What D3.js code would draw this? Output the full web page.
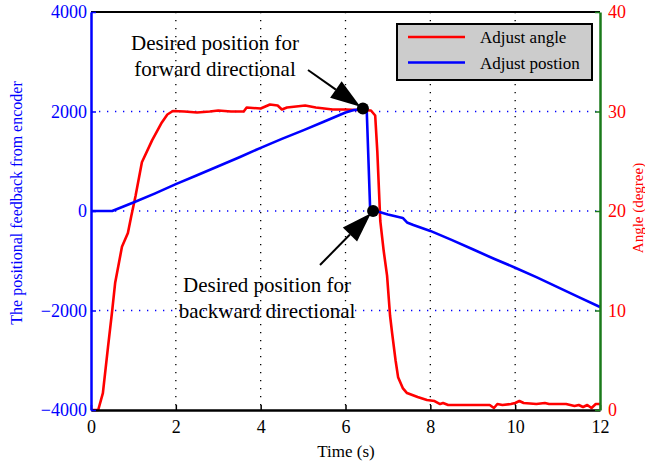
<!DOCTYPE html>
<html>
<head>
<meta charset="utf-8">
<script src="https://cdn.jsdelivr.net/npm/d3@7"></script>
<style>
  body { margin: 0; background: #fff; }
  svg text { font-family: "Liberation Serif", "Tinos", "Times New Roman", Times, "DejaVu Serif", serif !important; }
</style>
</head>
<body>
<svg id="chart" width="645" height="464"></svg>
<script>
// time (s) for the position curve and its values (encoder counts)
var posTime = [0, 0.5, 1, 1.5, 2, 2.5, 3, 3.5, 4, 4.5, 5, 5.5, 6, 6.2, 6.45, 6.5, 6.58, 6.65, 6.8, 7.0, 7.35, 7.45, 7.6, 8, 8.5, 9, 9.5, 10, 10.5, 11, 11.5, 12];
var posVal  = [0, 0, 170, 350, 540, 720, 900, 1080, 1270, 1450, 1620, 1800, 1980, 2030, 2050, 2040, 60, 0, -20, -70, -140, -230, -280, -400, -580, -770, -960, -1140, -1330, -1530, -1730, -1930];

// time (s) for the angle curve and its values (degree)
var angTime = [0, 0.17, 0.28, 0.4, 0.5, 0.57, 0.73, 0.87, 0.95, 1.05, 1.2, 1.44, 1.67, 1.8, 1.93, 2.2, 2.5, 2.8, 3.0, 3.3, 3.6, 3.67, 4.0, 4.22, 4.4, 4.5, 4.62, 5.05, 5.3, 5.7, 6.0, 6.6, 6.7, 6.75, 6.82, 6.9, 6.98, 7.05, 7.1, 7.18, 7.24, 7.35, 7.45, 7.7, 7.92, 8.1, 8.23, 8.3, 8.42, 9.0, 9.4, 9.5, 9.58, 9.7, 9.9, 10.0, 10.1, 10.2, 10.5, 10.7, 10.8, 11.2, 11.4, 11.5, 11.6, 11.7, 11.8, 11.9, 12];
var angVal  = [0, 0, 1.7, 6.3, 10, 12.8, 16.4, 17.8, 19.5, 21.5, 24.9, 27.1, 28.9, 29.7, 30.05, 30.0, 29.9, 30.0, 30.1, 30.0, 30.0, 30.4, 30.3, 30.7, 30.6, 30.2, 30.4, 30.6, 30.4, 30.2, 30.2, 30.1, 29.6, 26, 19, 16, 13.5, 9.5, 7.7, 5, 3.3, 2.2, 1.7, 1.3, 1.0, 0.9, 0.6, 0.7, 0.5, 0.5, 0.5, 0.2, 0.6, 0.5, 0.6, 0.7, 0.9, 0.7, 0.6, 0.7, 0.6, 0.6, 0.4, 0.5, 0.3, 0.5, 0.2, 0.6, 0.6];

var xTicks = [0, 2, 4, 6, 8, 10, 12];
var leftTicks = [-4000, -2000, 0, 2000, 4000];
var rightTicks = [0, 10, 20, 30, 40];

var legendNames = ["Adjust angle", "Adjust postion"];
var legendColors = ["#ff0000", "#0000ff"];

// marked points on the position curve: [time, position]
var marks = [[6.41, 2060], [6.65, 0]];
var notes = [["Desired position for", "forward directional"], ["Desired position for", "backward directional"]];

var FONT = "Liberation Serif, Tinos, Times New Roman, Times, DejaVu Serif, serif";
var L = 91, R = 600, T = 12, B = 410;
var svg = d3.select("#chart");

var x = d3.scaleLinear().domain([0, 12]).range([L, R]);
var yL = d3.scaleLinear().domain([-4000, 4000]).range([B, T]);
var yR = d3.scaleLinear().domain([0, 40]).range([B, T]);

// grid
svg.selectAll("line.vg").data(xTicks.slice(1, -1)).enter().append("line")
  .attr("x1", x).attr("x2", x).attr("y1", T).attr("y2", B)
  .style("stroke", "#000").style("stroke-width", 1.3).style("stroke-dasharray", "1.3,6.7");
svg.selectAll("line.hg").data([-2000, 0, 2000]).enter().append("line")
  .attr("x1", L).attr("x2", R).attr("y1", yL).attr("y2", yL)
  .style("stroke", "#0000ff").style("stroke-width", 1.3).style("stroke-dasharray", "1.3,6.7");

// curves
var ang = angTime.map(function(t, i) { return [t, angVal[i]]; });
var pos = posTime.map(function(t, i) { return [t, posVal[i]]; });

svg.append("path").datum(ang)
  .attr("d", d3.line().x(function(d) { return x(d[0]); }).y(function(d) { return yR(d[1]); }))
  .style("fill", "none").style("stroke", "#ff0000").style("stroke-width", 2.6).style("stroke-linejoin", "round");
svg.append("path").datum(pos)
  .attr("d", d3.line().x(function(d) { return x(d[0]); }).y(function(d) { return yL(d[1]); }))
  .style("fill", "none").style("stroke", "#0000ff").style("stroke-width", 2.6).style("stroke-linejoin", "round");

// axes
var bottom = svg.append("g").attr("transform", "translate(0," + B + ")")
  .call(d3.axisBottom(x).tickValues(xTicks).tickSizeInner(-5).tickSizeOuter(0).tickPadding(10));
bottom.attr("font-family", FONT);
bottom.select(".domain").style("stroke", "#000").style("stroke-width", 2.5);
bottom.selectAll(".tick line").style("stroke", "#000").style("stroke-width", 1.5);
bottom.selectAll("text").style("font-size", "18px").style("fill", "#000");

svg.append("line").attr("x1", L).attr("x2", R).attr("y1", T).attr("y2", T)
  .style("stroke", "#000").style("stroke-width", 2);

var left = svg.append("g").attr("transform", "translate(" + L + ",0)")
  .call(d3.axisLeft(yL).tickValues(leftTicks).tickSizeInner(-5).tickSizeOuter(0).tickPadding(4).tickFormat(d3.format("d")));
left.attr("font-family", FONT);
left.select(".domain").style("stroke", "#0000ff").style("stroke-width", 2.5);
left.selectAll(".tick line").style("stroke", "#0000ff").style("stroke-width", 1.5);
left.selectAll("text").style("font-size", "18px").style("fill", "#0000ff");

var right = svg.append("g").attr("transform", "translate(" + R + ",0)")
  .call(d3.axisRight(yR).tickValues(rightTicks).tickSizeInner(-5).tickSizeOuter(0).tickPadding(8));
right.attr("font-family", FONT);
right.select(".domain").style("stroke", "#1a7a1a").style("stroke-width", 2.5);
right.selectAll(".tick line").style("stroke", "#1a7a1a").style("stroke-width", 1.5);
right.selectAll("text").style("font-size", "18px").style("fill", "#ff0000");

// axis titles
svg.append("text").attr("x", 346).attr("y", 457).attr("text-anchor", "middle")
  .style("font-size", "17px").text("Time (s)");
svg.append("text").attr("transform", "translate(22,203) rotate(-90)").attr("text-anchor", "middle")
  .style("font-size", "16px").style("fill", "#0000ff").text("The positional feedback from encoder");
svg.append("text").attr("transform", "translate(643,208) rotate(-90)").attr("text-anchor", "middle")
  .style("font-size", "15px").style("fill", "#ff0000").text("Angle (degree)");

// legend
var lg = svg.append("g");
lg.append("rect").attr("x", 397).attr("y", 24).attr("width", 195).attr("height", 56)
  .style("fill", "#cccccc").style("stroke", "#000").style("stroke-width", 2);
legendNames.forEach(function(n, i) {
  lg.append("line").attr("x1", 408).attr("x2", 465).attr("y1", 37 + i * 25.5).attr("y2", 37 + i * 25.5)
    .style("stroke", legendColors[i]).style("stroke-width", 2.6);
  lg.append("text").attr("x", 480).attr("y", 43 + i * 25.5).style("font-size", "17px").text(n);
});

// annotations: arrow from text to marked point
var noteText = [[215, 50], [267, 292]];
var arrowStart = [[308, 70], [320, 265]];
marks.forEach(function(m, i) {
  var px = x(m[0]), py = yL(m[1]);
  var sx = arrowStart[i][0], sy = arrowStart[i][1];
  var dx = px - sx, dy = py - sy, len = Math.sqrt(dx * dx + dy * dy);
  var ux = dx / len, uy = dy / len;
  var tipX = px - ux * 3, tipY = py - uy * 3;
  var headLen = 30, hw = 10;
  var bx = tipX - ux * headLen, by = tipY - uy * headLen;
  svg.append("line").attr("x1", sx).attr("y1", sy).attr("x2", bx).attr("y2", by)
    .style("stroke", "#000").style("stroke-width", 2);
  svg.append("path")
    .attr("d", "M" + tipX + "," + tipY + "L" + (bx - uy * hw) + "," + (by + ux * hw) + "L" + (bx + uy * hw) + "," + (by - ux * hw) + "Z")
    .style("fill", "#000");
  svg.append("circle").attr("cx", px).attr("cy", py).attr("r", 6).style("fill", "#000");
  notes[i].forEach(function(s, j) {
    svg.append("text").attr("x", noteText[i][0]).attr("y", noteText[i][1] + j * 26)
      .attr("text-anchor", "middle").style("font-size", "21px").text(s);
  });
});
</script>
</body>
</html>
